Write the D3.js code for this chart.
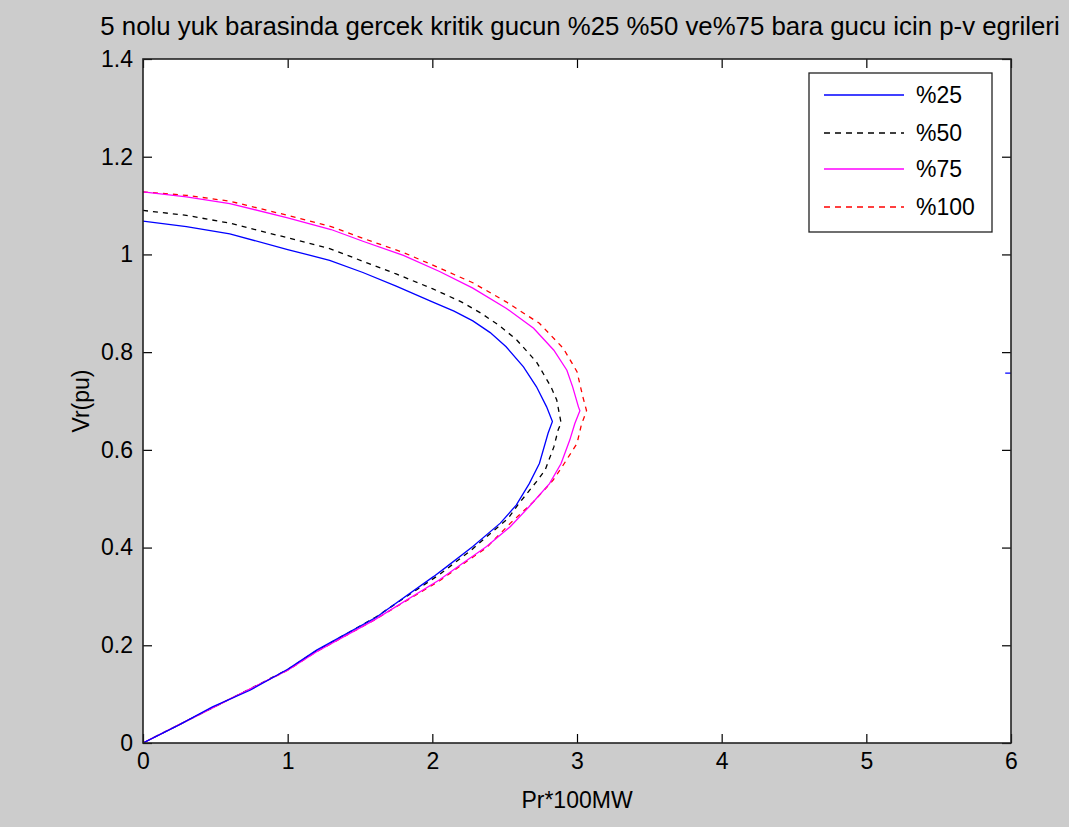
<!DOCTYPE html>
<html>
<head>
<meta charset="utf-8">
<script src="https://cdn.jsdelivr.net/npm/d3@7"></script>
<style>
    body { margin: 0; background: #cccccc; }
    svg text { font-family: "Liberation Sans", Arial, sans-serif; fill: #000; }
</style>
</head>
<body>
<script>
(function () {

    // p-v curves, [P (x100MW), Vr (pu)]
    let p25 = [[0, 1.068], [0.3, 1.057], [0.6, 1.042], [1.0, 1.010], [1.29, 0.988], [1.52, 0.963],
        [1.75, 0.935], [2.0, 0.903], [2.15, 0.884], [2.28, 0.864], [2.4, 0.840], [2.51, 0.811],
        [2.63, 0.770], [2.72, 0.729], [2.79, 0.688], [2.83, 0.658], [2.80, 0.634], [2.74, 0.572],
        [2.67, 0.531], [2.58, 0.487], [2.47, 0.450], [2.28, 0.402], [2.10, 0.361], [2.01, 0.341],
        [1.615, 0.258], [1.20, 0.190], [1.0, 0.151], [0.74, 0.108], [0.48, 0.074], [0.25, 0.037], [0, 0]];
    let p50 = [[0, 1.090], [0.3, 1.080], [0.6, 1.064], [1.0, 1.034], [1.29, 1.012], [1.52, 0.986],
        [1.75, 0.960], [2.0, 0.930], [2.2, 0.903], [2.34, 0.879], [2.46, 0.855], [2.58, 0.826],
        [2.72, 0.780], [2.82, 0.729], [2.86, 0.702], [2.89, 0.655], [2.87, 0.641], [2.84, 0.606],
        [2.78, 0.559], [2.72, 0.535], [2.59, 0.487], [2.525, 0.460], [2.375, 0.422], [2.27, 0.395],
        [2.05, 0.345], [1.6, 0.256], [1.2, 0.189], [1.0, 0.150], [0.5, 0.075], [0, 0]];
    let p75 = [[0, 1.128], [0.3, 1.118], [0.6, 1.104], [1.0, 1.075], [1.3, 1.051], [1.52, 1.027],
        [1.8, 0.998], [2.05, 0.965], [2.28, 0.931], [2.51, 0.890], [2.70, 0.849], [2.84, 0.804],
        [2.93, 0.763], [2.97, 0.729], [3.01, 0.688], [3.02, 0.680], [2.985, 0.654], [2.95, 0.620],
        [2.89, 0.572], [2.81, 0.531], [2.67, 0.484], [2.54, 0.443], [2.375, 0.402], [2.21, 0.368],
        [2.05, 0.334], [1.6, 0.252], [1.2, 0.187], [1.0, 0.149], [0.5, 0.075], [0, 0]];
    let p100 = [[0, 1.128], [0.3, 1.121], [0.6, 1.109], [1.0, 1.080], [1.3, 1.057], [1.52, 1.033],
        [1.8, 1.004], [2.05, 0.972], [2.28, 0.942], [2.51, 0.903], [2.74, 0.859], [2.905, 0.808],
        [3.0, 0.760], [3.04, 0.709], [3.066, 0.680], [3.03, 0.651], [3.0, 0.613], [2.905, 0.569],
        [2.835, 0.538], [2.70, 0.494], [2.54, 0.450], [2.375, 0.400], [2.21, 0.366], [2.05, 0.332],
        [1.6, 0.252], [1.2, 0.187], [1.0, 0.149], [0.5, 0.075], [0, 0]];
    // short blue piece that shows at the right edge
    let p25Edge = [[5.96, 0.757], [6.3, 0.757]];

    let seriesNames = ["%25", "%50", "%75", "%100"];
    let xTicks = [0, 1, 2, 3, 4, 5, 6];
    let yTicks = [0, 0.2, 0.4, 0.6, 0.8, 1, 1.2, 1.4];

    let svg = d3.select('body')
        .append('svg')
        .attr('width', 1069)
        .attr('height', 827)

    svg.append('rect')
        .attr('width', 1069)
        .attr('height', 827)
        .attr('fill', '#cccccc')

    let xScale = d3.scaleLinear().domain([0, 6]).range([143, 1011]);
    let yScale = d3.scaleLinear().domain([0, 1.4]).range([743, 59]);

    svg.append('rect')
        .attr('x', xScale(0))
        .attr('y', yScale(1.4))
        .attr('width', xScale(6) - xScale(0))
        .attr('height', yScale(0) - yScale(1.4))
        .attr('fill', 'white')

    svg.append('clipPath').attr('id', 'plot')
        .append('rect')
        .attr('x', xScale(0))
        .attr('y', yScale(1.4))
        .attr('width', xScale(6) - xScale(0))
        .attr('height', yScale(0) - yScale(1.4))

    let line = d3.line()
        .x((d) => xScale(d[0]))
        .y((d) => yScale(d[1]));

    let styles = [
        { color: "#0000ff", dash: null },
        { color: "#000000", dash: "5,5" },
        { color: "#ff00ff", dash: null },
        { color: "#ff0000", dash: "5,5" }
    ];
    let allSeries = [p25, p50, p75, p100];

    let plot = svg.append('g').attr('clip-path', 'url(#plot)');

    // draw %100 first so the solid lines sit on top like the picture
    [3, 1, 2, 0].forEach((i) => {
        plot.append('path')
            .attr('d', line(allSeries[i]))
            .attr('fill', 'none')
            .attr('stroke', styles[i].color)
            .attr('stroke-width', 1.3)
            .attr('stroke-dasharray', styles[i].dash)
    });

    plot.append('path')
        .attr('d', line(p25Edge))
        .attr('fill', 'none')
        .attr('stroke', styles[0].color)
        .attr('stroke-width', 1.3)

    // axes, ticks pointing inward on all four sides
    let fmt = (d) => d3.format("~g")(d);

    let xAxis = svg.append('g')
        .attr('transform', 'translate(0,' + yScale(0) + ')')
        .call(d3.axisBottom(xScale).tickValues(xTicks).tickFormat(fmt).tickSizeInner(-9).tickSizeOuter(0).tickPadding(10));
    let xTop = svg.append('g')
        .attr('transform', 'translate(0,' + yScale(1.4) + ')')
        .call(d3.axisTop(xScale).tickValues(xTicks).tickFormat("").tickSizeInner(-9).tickSizeOuter(0));
    let yAxis = svg.append('g')
        .attr('transform', 'translate(' + xScale(0) + ',0)')
        .call(d3.axisLeft(yScale).tickValues(yTicks).tickFormat(fmt).tickSizeInner(-9).tickSizeOuter(0).tickPadding(10));
    let yRight = svg.append('g')
        .attr('transform', 'translate(' + xScale(6) + ',0)')
        .call(d3.axisRight(yScale).tickValues(yTicks).tickFormat("").tickSizeInner(-9).tickSizeOuter(0));

    [xAxis, xTop, yAxis, yRight].forEach((g) => {
        g.select('.domain').remove();
        g.selectAll('.tick line').attr('stroke', '#000').attr('stroke-width', 1.2);
        g.selectAll('.tick text')
            .attr('font-family', null)
            .attr('font-size', null)
            .style('font-size', '23px');
    });

    svg.append('rect')
        .attr('x', xScale(0))
        .attr('y', yScale(1.4))
        .attr('width', xScale(6) - xScale(0))
        .attr('height', yScale(0) - yScale(1.4))
        .attr('fill', 'none')
        .attr('stroke', '#222')
        .attr('stroke-width', 1.6)

    // title and axis labels
    svg.append('text')
        .attr('x', 580)
        .attr('y', 35)
        .style('text-anchor', 'middle')
        .style('font-size', '25.8px')
        .text("5 nolu yuk barasinda gercek kritik gucun %25 %50 ve%75 bara gucu icin p-v egrileri");

    svg.append('text')
        .attr('x', (xScale(0) + xScale(6)) / 2)
        .attr('y', 808)
        .style('text-anchor', 'middle')
        .style('font-size', '23px')
        .text("Pr*100MW");

    svg.append('text')
        .attr('transform', 'rotate(-90)')
        .attr('x', -(yScale(0) + yScale(1.4)) / 2)
        .attr('y', 89)
        .style('text-anchor', 'middle')
        .style('font-size', '23px')
        .text("Vr(pu)");

    // legend
    let legend = svg.append('g');
    legend.append('rect')
        .attr('x', 809)
        .attr('y', 73)
        .attr('width', 183)
        .attr('height', 159)
        .attr('fill', 'white')
        .attr('stroke', '#222')
        .attr('stroke-width', 1.3)

    let rowY = [95, 133, 169, 207];
    seriesNames.forEach((name, i) => {
        legend.append('line')
            .attr('x1', 824)
            .attr('x2', 904)
            .attr('y1', rowY[i])
            .attr('y2', rowY[i])
            .attr('stroke', styles[i].color)
            .attr('stroke-width', 1.3)
            .attr('stroke-dasharray', styles[i].dash ? "6,5" : null)

        legend.append('text')
            .attr('x', 916)
            .attr('y', rowY[i])
            .attr('dy', '0.36em')
            .style('font-size', '23px')
            .text(name);
    });
})();
</script>
</body>
</html>
